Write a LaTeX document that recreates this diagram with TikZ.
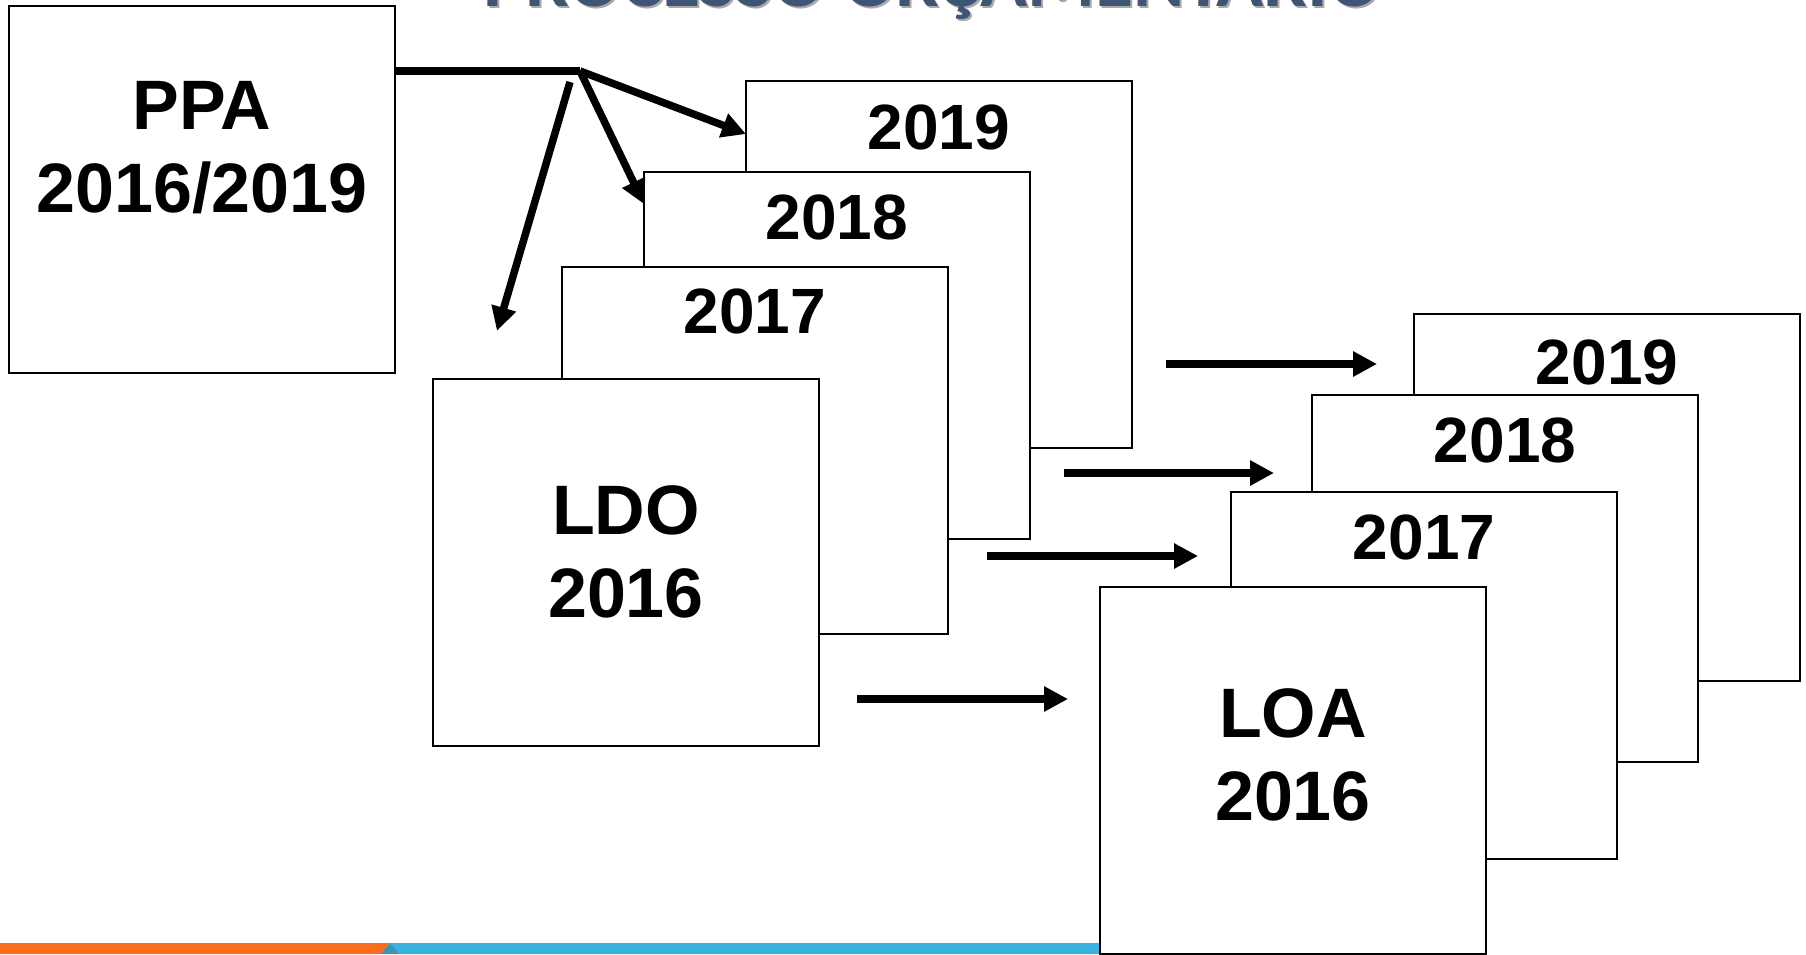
\documentclass[tikz,border=0pt]{standalone}
\usepackage{fontspec}
\setmainfont{Liberation Sans}
\newfontfamily\titlefont{Carlito}
\usetikzlibrary{arrows.meta}
\definecolor{titleblue}{RGB}{63,85,117}
\definecolor{titleshadow}{RGB}{170,170,170}
\definecolor{barorange}{RGB}{248,110,30}
\definecolor{barblue}{RGB}{58,178,222}
\definecolor{barteal}{RGB}{58,150,182}
\begin{document}
\begin{tikzpicture}[x=1pt,y=-1pt,
  bx/.style={draw=black,fill=white,line width=1.5pt,minimum width=386pt,minimum height=367pt,inner sep=0pt,outer sep=0pt,anchor=north west},
  yr/.style={font=\fontsize{64}{64}\selectfont\bfseries,inner sep=0pt},
  big/.style={font=\fontsize{70}{83}\selectfont\bfseries,align=center,inner sep=0pt},
  ttl/.style={anchor=base,inner sep=0pt},
  lnk/.style={line width=7.5pt},
  arr/.style={line width=7.5pt,-{Triangle[length=24pt,width=24pt]}}]
\useasboundingbox (0,0) rectangle (1806,954);
\clip (0,0) rectangle (1806,954);
% title (cut off at the top)
\node[ttl,text=titleshadow] (titles) at (934.5,8)
  {\resizebox{897pt}{!}{\titlefont\bfseries PROCESSO ORÇAMENTÁRIO}};
\node[ttl,text=titleblue] (title) at (932.5,6)
  {\resizebox{897pt}{!}{\titlefont\bfseries PROCESSO ORÇAMENTÁRIO}};
% PPA
\node[bx] (ppa) at (9,6) {};
\node[big] (ppat) at ([yshift=42pt]ppa.center) {PPA\\2016/2019};
% LDO stack
\node[bx] (l19) at (746,81) {};
\node[yr] (l19t) at ([yshift=-46pt]l19.north) {2019};
\node[bx] (l18) at (644,172) {};
\node[yr] (l18t) at ([yshift=-45pt]l18.north) {2018};
\node[bx] (l17) at (562,267) {};
\node[yr] (l17t) at ([yshift=-44pt]l17.north) {2017};
\node[bx] (l16) at (433,379) {};
\node[big] (l16t) at ([yshift=11pt]l16.center) {LDO\\2016};
% LOA stack
\node[bx] (o19) at (1414,314) {};
\node[yr] (o19t) at ([yshift=-48pt]o19.north) {2019};
\node[bx] (o18) at (1312,395) {};
\node[yr] (o18t) at ([yshift=-45pt]o18.north) {2018};
\node[bx] (o17) at (1231,492) {};
\node[yr] (o17t) at ([yshift=-45pt]o17.north) {2017};
% bottom bar
\fill[barorange] (0,943) -- (390,943) -- (380,954) -- (0,954) -- cycle;
\fill[barblue] (390,943) -- (1100,943) -- (1100,954) -- (400,954) -- cycle;
\fill[barteal] (380,954) -- (390,943) -- (400,954) -- cycle;
\node[bx] (o16) at (1100,587) {};
\node[big] (o16t) at ([yshift=16pt]o16.center) {LOA\\2016};
% connectors from PPA
\coordinate (j) at (580,71);
\draw[lnk] (ppa.north east |- j) -- (j);
\draw[arr] (j) -- ([yshift=-53pt]l19.north west);
\draw[arr] (j) -- ([yshift=-32pt]l18.north west);
\coordinate (d3s) at (570,82);
\coordinate (d3e) at (497,331);
\draw[arr] (d3s) -- (d3e);
% LDO -> LOA arrows
\coordinate (a1s) at (1166,364); \coordinate (a1e) at (1377,364);
\coordinate (a2s) at (1064,473); \coordinate (a2e) at (1274,473);
\coordinate (a3s) at (987,556);  \coordinate (a3e) at (1198,556);
\coordinate (a4s) at (857,699);  \coordinate (a4e) at (1068,699);
\draw[arr] (a1s) -- (a1e);
\draw[arr] (a2s) -- (a2e);
\draw[arr] (a3s) -- (a3e);
\draw[arr] (a4s) -- (a4e);
\end{tikzpicture}
\end{document}
